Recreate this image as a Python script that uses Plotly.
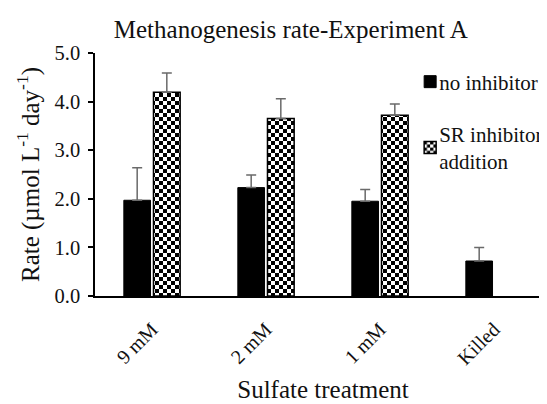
import plotly.graph_objects as go

categories = ["9 mM", "2 mM", "1 mM", "Killed"]
no_inhibitor = [1.97, 2.23, 1.95, 0.72]
no_inhibitor_err = [0.67, 0.26, 0.24, 0.28]
sr_inhibitor = [4.19, 3.65, 3.72, None]
sr_inhibitor_err = [0.40, 0.41, 0.23, 0]
y_ticks = [0, 1, 2, 3, 4, 5]

FONT = "Liberation Serif"
ERR_COLOR = "#6a6a6a"
TXT = "#111111"

fig = go.Figure()
fig.add_trace(go.Bar(
    x=categories, y=no_inhibitor, name="no inhibitor",
    legendgroup="a",
    marker=dict(color="black", line=dict(color="black", width=1)),
    error_y=dict(type="data", array=no_inhibitor_err, symmetric=False,
                 arrayminus=[0] * 4, color=ERR_COLOR, thickness=1.5, width=5),
))
fig.add_trace(go.Bar(
    x=categories, y=sr_inhibitor, name="SR inhibitor<br>addition",
    legendgroup="b",
    marker=dict(color="white", line=dict(color="black", width=1.5),
                pattern=dict(shape=".", size=8, solidity=0.5,
                             fgcolor="black", bgcolor="white", fillmode="replace")),
    error_y=dict(type="data", array=sr_inhibitor_err, symmetric=False,
                 arrayminus=[0] * 4, color=ERR_COLOR, thickness=1.5, width=5),
))

fig.update_layout(
    template="none",
    width=547, height=404,
    margin=dict(l=87, r=4, t=45, b=116, autoexpand=False),
    paper_bgcolor="white", plot_bgcolor="white",
    font=dict(family=FONT, size=20, color=TXT),
    barmode="group", bargap=0.48, bargroupgap=0.1,
    title=dict(text="Methanogenesis rate-Experiment A",
               font=dict(family=FONT, size=25, color=TXT),
               x=0.517, xanchor="center", xref="container",
               y=1 - 21 / 404, yanchor="middle", yref="container"),
    legend=dict(x=0.667, y=0.965, xanchor="left", yanchor="top",
                traceorder="grouped", tracegroupgap=22,
                font=dict(family=FONT, size=21, color=TXT),
                bgcolor="rgba(0,0,0,0)", borderwidth=0),
    showlegend=True,
)
fig.update_yaxes(
    range=[0, 5], tickvals=y_ticks, tickformat=".1f",
    showline=True, linecolor="black", linewidth=1.5,
    ticks="outside", ticklen=5, tickcolor="black", tickwidth=1.5,
    ticklabelstandoff=4,
    showgrid=False, zeroline=False,
    tickfont=dict(family=FONT, size=20.5, color=TXT),
    title=dict(text="Rate (µmol L<sup>-1</sup> day<sup>-1</sup>)",
               font=dict(family=FONT, size=25, color=TXT), standoff=8),
)
fig.update_xaxes(
    showline=True, linecolor="black", linewidth=1.5,
    ticks="", tickangle=-45, showgrid=False,
    ticklabelstandoff=12,
    tickfont=dict(family=FONT, size=20, color=TXT),
    title=dict(text="Sulfate treatment",
               font=dict(family=FONT, size=25, color=TXT), standoff=12),
)

post = """
var gd = document.getElementById('{plot_id}');
var ns = 'http://www.w3.org/2000/svg';
gd.querySelectorAll('pattern').forEach(function(p){
  p.setAttribute('width', 8); p.setAttribute('height', 8);
  while (p.firstChild) p.removeChild(p.firstChild);
  var bg = document.createElementNS(ns, 'rect');
  bg.setAttribute('x', 0); bg.setAttribute('y', 0);
  bg.setAttribute('width', 8); bg.setAttribute('height', 8);
  bg.setAttribute('fill', 'white');
  p.appendChild(bg);
  [[0,0],[4,4]].forEach(function(c){
    var r = document.createElementNS(ns, 'rect');
    r.setAttribute('x', c[0]); r.setAttribute('y', c[1]);
    r.setAttribute('width', 4); r.setAttribute('height', 4);
    r.setAttribute('fill', 'black');
    p.appendChild(r);
  });
});
gd.querySelectorAll('.legend .legendpoints').forEach(function(g){
  g.setAttribute('transform', 'translate(11,0)');
});
"""

fig.write_html("out.html", post_script=post)
